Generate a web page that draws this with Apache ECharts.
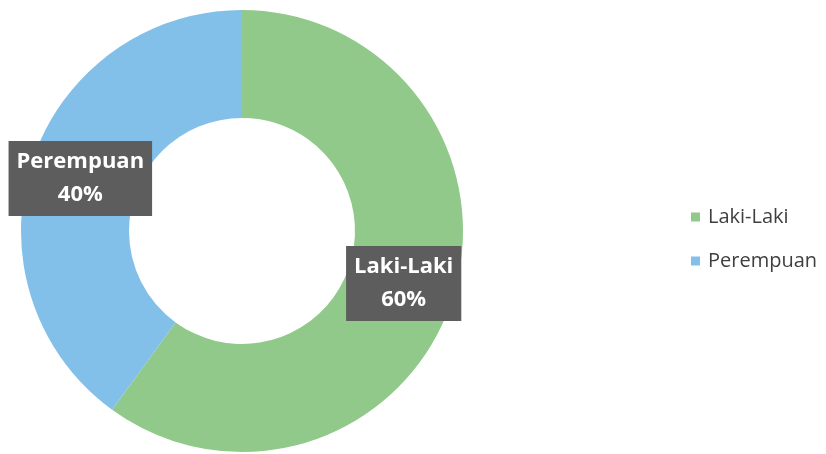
<!DOCTYPE html>
<html>
<head>
<meta charset="utf-8">
<script src="https://cdn.jsdelivr.net/npm/echarts@6/dist/echarts.min.js"></script>
<style>
  html, body { margin: 0; padding: 0; background: #ffffff; }
  #chart { width: 826px; height: 454px; }
</style>
</head>
<body>
<div id="chart"></div>
<script>
// Gender breakdown (percent)
const categories = ['Laki-Laki', 'Perempuan'];
const values = [60, 40];
const colors = ['#91c98b', '#82c0ea'];

const chart = echarts.init(document.getElementById('chart'), null, { renderer: 'canvas' });

chart.setOption({
  animation: false,
  color: colors,
  legend: {
    orient: 'vertical',
    left: 686,
    top: 202,
    itemWidth: 9,
    itemHeight: 9,
    itemGap: 24,
    icon: 'rect',
    data: categories,
    textStyle: {
      fontFamily: 'Open Sans',
      fontSize: 20,
      color: '#3f3f3f',
      padding: [0, 0, 0, 3]
    }
  },
  series: [{
    type: 'pie',
    center: [242, 231],
    radius: [113, 221],
    startAngle: 90,
    clockwise: true,
    avoidLabelOverlap: false,
    data: categories.map((name, i) => ({ name, value: values[i] })),
    itemStyle: { borderWidth: 0 },
    label: {
      show: true,
      position: 'inside',
      formatter: '{b}\n{d}%',
      fontFamily: 'Open Sans',
      fontWeight: 'bold',
      fontSize: 22,
      lineHeight: 33,
      color: '#ffffff',
      backgroundColor: '#5d5d5d',
      padding: [5, 8, 4, 8],
      align: 'center'
    },
    labelLine: { show: false },
    emphasis: { disabled: true }
  }]
});
</script>
</body>
</html>
